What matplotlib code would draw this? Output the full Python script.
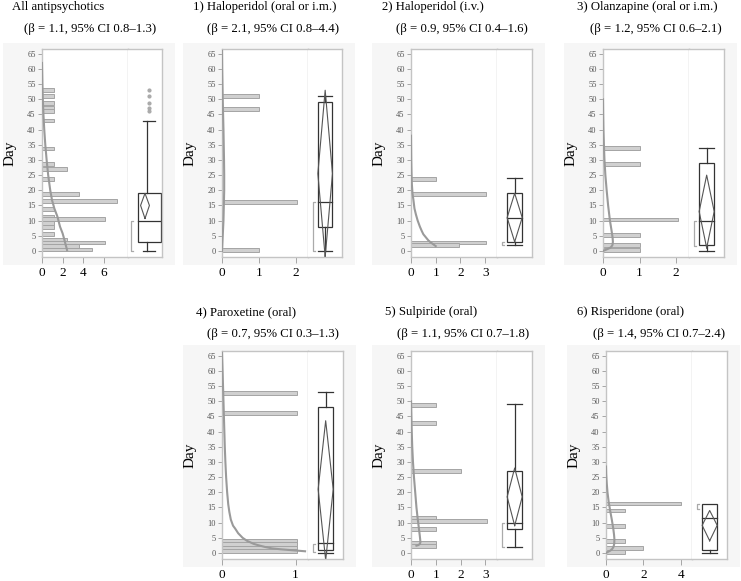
import numpy as np
import matplotlib.pyplot as plt
from matplotlib.patches import Rectangle

W, H = 741, 581

titles = ["All antipsychotics", "1) Haloperidol (oral or i.m.)", "2) Haloperidol (i.v.)",
          "3) Olanzapine (oral or i.m.)", "4) Paroxetine (oral)", "5) Sulpiride (oral)",
          "6) Risperidone (oral)"]
subtitles = ["(β = 1.1, 95% CI 0.8–1.3)", "(β = 2.1, 95% CI 0.8–4.4)", "(β = 0.9, 95% CI 0.4–1.6)",
             "(β = 1.2, 95% CI 0.6–2.1)", "(β = 0.7, 95% CI 0.3–1.3)", "(β = 1.1, 95% CI 0.7–1.8)",
             "(β = 1.4, 95% CI 0.7–2.4)"]

# histogram bars (day, length)
all_day = [53, 51, 48.8, 47.2, 46.1, 43, 33.8, 28.7, 27, 23.7, 18.9, 16.4, 13.9, 11.3, 10.5, 9.1, 8.0, 5.5, 3.7, 2.8, 1.7, 0.5]
all_len = [1.2, 1.2, 1.2, 1.2, 1.2, 1.2, 1.2, 1.2, 2.4, 1.2, 3.6, 7.3, 1.2, 1.2, 6.1, 1.2, 1.2, 1.2, 2.4, 6.1, 3.6, 4.9]
halo_day = [51, 46.8, 16.2, 0.4]
halo_len = [1.0, 1.0, 2.05, 1.0]
haliv_day = [23.7, 18.7, 2.8, 1.9]
haliv_len = [1.0, 3.05, 3.05, 1.96]
olan_day = [33.9, 28.8, 10.4, 5.2, 1.9, 0.4]
olan_len = [1.0, 1.0, 2.05, 1.0, 1.0, 1.0]
parox_day = [52.8, 46.1, 3.9, 2.85, 1.75, 0.7]
parox_len = [1.02, 1.02, 1.02, 1.02, 1.02, 1.02]
sulp_day = [48.7, 42.9, 27, 11.4, 10.5, 7.9, 3.2, 2.2]
sulp_len = [1.0, 1.0, 2.03, 1.0, 3.05, 1.0, 1.0, 1.0]
risp_day = [16.3, 14.0, 8.8, 3.9, 1.5, 0.3]
risp_len = [4.0, 1.0, 1.0, 1.0, 2.0, 1.0]

# fitted curves (day, x)
all_cday = [62, 55, 50, 45, 40, 35, 30, 25, 20, 16.8, 14, 11.3, 8, 5.8, 4, 2, 1, 0.3]
all_cx = [0, 0.04, 0.08, 0.14, 0.22, 0.32, 0.45, 0.6, 0.8, 0.97, 1.2, 1.5, 1.75, 2.0, 2.15, 2.3, 2.38, 2.43]
halo_cday = [66, 60, 50, 40, 30, 25, 20, 10, 5, 0]
halo_cx = [0, 0.005, 0.02, 0.04, 0.055, 0.06, 0.06, 0.04, 0.02, 0]
haliv_cday = [38, 34, 30, 26, 22, 19, 16.7, 14, 12, 10, 8, 6.5, 5.5, 4.5, 3.5, 2.8, 2.2, 1.6]
haliv_cx = [0, 0.005, 0.01, 0.02, 0.035, 0.06, 0.1, 0.14, 0.2, 0.27, 0.36, 0.44, 0.5, 0.6, 0.7, 0.8, 0.9, 1.0]
olan_cday = [50, 45, 40, 35, 30, 25, 20, 15, 10, 7, 5, 4, 3, 2, 1.4, 1, 0.6, 0.3, 0]
olan_cx = [0, 0.005, 0.012, 0.025, 0.04, 0.065, 0.1, 0.14, 0.19, 0.23, 0.255, 0.265, 0.27, 0.26, 0.23,
           0.19, 0.12, 0.06, 0]
parox_cday = [66, 60, 55, 50, 45, 40, 35, 30, 25, 20, 16, 13.5, 11, 9, 8, 6.5, 5, 4, 3, 2.5, 2, 1.5,
              1.2, 0.9, 0.55]
parox_cx = [0.0, 0.008, 0.014, 0.02, 0.026, 0.032, 0.038, 0.046, 0.056, 0.07, 0.085, 0.1, 0.12, 0.15,
            0.18, 0.22, 0.28, 0.34, 0.43, 0.5, 0.58, 0.68, 0.8, 0.95, 1.13]
sulp_cday = [50, 45, 40, 35, 30, 25, 20, 15, 12, 10, 8, 6, 4.5, 3.5, 3, 2.6, 2.4]
sulp_cx = [0, 0.015, 0.03, 0.05, 0.08, 0.12, 0.17, 0.22, 0.26, 0.29, 0.32, 0.35, 0.37, 0.38, 0.36, 0.3, 0.22]
risp_cday = [28.5, 26, 23, 20, 17, 14, 11, 8, 6, 4.5, 3, 2, 1.3, 0.8, 0.4, 0]
risp_cx = [0, 0.01, 0.04, 0.08, 0.14, 0.22, 0.31, 0.39, 0.43, 0.45, 0.44, 0.4, 0.33, 0.24, 0.12, 0]

# box stats: whisker lo, q1, median, q3, whisker hi
box_stats = [[0, 3, 10, 19, 43], [0, 8, 16, 49, 51], [2, 3, 11, 19, 24], [0, 2, 10, 29, 34],
             [0, 0.9, 3.4, 48, 53], [2, 8, 10, 27, 49], [0, 1, 11.5, 16, 16]]
# mean diamond: lower CI, mean, upper CI
mean_ci = [[10.7, 15, 19], [-2, 25.5, 53], [3, 11, 19], [1, 13, 25], [-2.4, 21, 43.6], [9, 18.5, 28], [4, 9.1, 14]]
# shortest half bracket
short_half = [[0, 9.8], [0, 16], [1.8, 2.8], [1.7, 9.8], [0.3, 2.9], [2, 10], [14.4, 16]]
all_outliers = [46.1, 47.2, 48.8, 51, 53]

bars = [(all_day, all_len), (halo_day, halo_len), (haliv_day, haliv_len), (olan_day, olan_len),
        (parox_day, parox_len), (sulp_day, sulp_len), (risp_day, risp_len)]
curves = [(all_cday, all_cx), (halo_cday, halo_cx), (haliv_cday, haliv_cx), (olan_cday, olan_cx),
          (parox_cday, parox_cx), (sulp_cday, sulp_cx), (risp_cday, risp_cx)]
xmax = [8.35, 2.34, 3.48, 2.35, 1.17, 3.47, 4.6]
xticks = [[0, 2, 4, 6], [0, 1, 2], [0, 1, 2, 3], [0, 1, 2], [0, 1], [0, 1, 2, 3], [0, 2, 4]]

# layout in pixels: left, divider, right, top, bottom
axes_px = [(42, 128, 162, 49, 257), (222, 308, 342, 49, 257), (411, 497, 532, 49, 257),
           (603, 689, 724, 49, 257), (222, 308, 343, 351, 559), (411, 497, 532, 351, 559),
           (606, 692, 727, 351, 559)]
title_px = [(12, 24, 10, 32), (193, 207, 10, 32), (382, 396, 10, 32), (577, 590, 10, 32),
            (196, 207, 315, 337), (385, 397, 315, 337), (577, 593, 315, 337)]

serif = 'Liberation Serif'
spine_c = '#c4c4c4'
line_c = '#333333'

fig = plt.figure(figsize=(W / 100, H / 100), dpi=100)


def fx(px):
    return px / W


def fy(py):
    return 1 - py / H


for i in range(7):
    l, d, r, t, b = axes_px[i]
    # light panel background
    fig.patches.append(Rectangle((fx(l - 39), fy(b + 8)), fx(r + 13) - fx(l - 39), fy(t - 6) - fy(b + 8),
                                 transform=fig.transFigure, facecolor='#f6f6f6', edgecolor='none', zorder=-5))
    ax = fig.add_axes([fx(l), fy(b), fx(d) - fx(l), fy(t) - fy(b)])
    bx = fig.add_axes([fx(d), fy(b), fx(r) - fx(d), fy(t) - fy(b)])
    for a in (ax, bx):
        a.set_zorder(2)
        a.set_ylim(-2, 66.6)
        for s in a.spines.values():
            s.set_color(spine_c)
            s.set_linewidth(1.0)
    bx.spines['left'].set_visible(False)

    days, lens = bars[i]
    ax.barh(days, lens, height=1.25, color='#d0d0d0', edgecolor='#a4a4a4', linewidth=0.7, zorder=2)
    cd, cx = curves[i]
    ax.plot(cx, cd, color='#9a9a9a', lw=1.5, zorder=3, solid_joinstyle='round')
    ax.set_xlim(0, xmax[i])
    ax.set_xticks(xticks[i])
    ax.set_yticks(range(0, 70, 5))
    ax.tick_params(axis='y', labelsize=6, labelcolor='#555555', color='#999999', length=3, width=0.6, pad=1.5)
    ax.tick_params(axis='x', labelsize=9.5, color='#999999', length=4, width=0.6, pad=3)
    for lab in ax.get_xticklabels() + ax.get_yticklabels():
        lab.set_fontfamily(serif)
    ax.set_ylabel('Day', fontsize=11, fontfamily=serif)
    ax.yaxis.set_label_coords(-25 / (d - l), 0.5)

    # box plot part
    bx.set_xlim(0, 1)
    bx.set_xticks([])
    bx.set_yticks([])
    lo, q1, med, q3, hi = box_stats[i]
    if i == 0:
        b0, b1, wx, c0, c1, dc, dhw, brx = 0.29, 0.97, 0.55, 0.44, 0.79, 0.5, 0.13, 0.09
    else:
        b0, b1, wx, c0, c1, dc, dhw, brx = 0.29, 0.72, 0.505, 0.29, 0.72, 0.505, 0.215, 0.14
    bx.add_patch(Rectangle((b0, q1), b1 - b0, q3 - q1, fill=False, ec=line_c, lw=0.9))
    bx.plot([b0, b1], [med, med], color=line_c, lw=0.9)
    if hi > q3:
        bx.plot([wx, wx], [q3, hi], color=line_c, lw=0.9)
        bx.plot([c0, c1], [hi, hi], color=line_c, lw=0.9)
    if lo < q1:
        bx.plot([wx, wx], [lo, q1], color=line_c, lw=0.9)
        bx.plot([c0, c1], [lo, lo], color=line_c, lw=0.9)
    cl, mn, ch = mean_ci[i]
    bx.plot([dc, dc - dhw, dc, dc + dhw, dc], [cl, mn, ch, mn, cl], color='#555555', lw=0.8)
    sl, sh = short_half[i]
    bx.plot([brx + 0.06, brx, brx, brx + 0.06], [sl, sl, sh, sh], color='#aaaaaa', lw=0.9)
    if i == 0:
        bx.scatter([0.63] * len(all_outliers), all_outliers, s=4, color='#aaaaaa', zorder=3)

    # titles
    x1, x2, y1, y2 = title_px[i]
    fig.text(fx(x1), fy(y1), titles[i], fontsize=9.2, fontfamily=serif, va='baseline', ha='left')
    fig.text(fx(x2), fy(y2), subtitles[i], fontsize=9.2, fontfamily=serif, va='baseline', ha='left')

fig.savefig('out.png', dpi=100)
